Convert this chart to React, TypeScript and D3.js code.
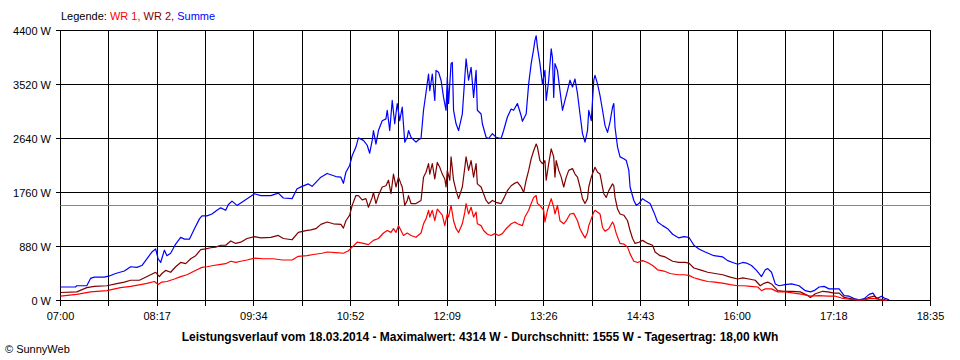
import React, { useEffect, useRef } from 'react';
import * as d3 from 'd3';

// Minuten nach 07:00, Leistung in W
const wr1: [number, number][] = [
  [0, 70], [13, 100], [24, 140], [37, 160], [48, 210], [56, 230], [64, 260], [69, 280], [75, 310], [78, 260], [81, 300], [85, 310], [91, 350], [96, 390], [101, 420], [105, 460], [109, 500], [113, 540], [117, 550], [122, 570], [128, 590], [132, 600], [136, 640], [140, 620],
  [144, 640], [149, 660], [155, 690], [162, 680], [170, 680], [177, 660], [185, 660], [190, 720], [197, 730], [202, 750], [209, 770], [213, 790], [220, 780], [226, 770], [230, 810], [233, 870], [237, 950], [242, 930], [246, 910], [250, 980], [254, 1010], [258, 1100], [261, 1140], [264, 1110], [266, 1170], [268, 1110], [270, 1220], [272, 1140], [274, 1060], [277, 1100], [280, 1060], [284, 1030], [288, 1100],
  [290, 1250], [292, 1330], [294, 1470], [295, 1360], [297, 1470], [299, 1300], [301, 1490], [303, 1440], [305, 1390], [307, 1220], [309, 1410], [310, 1360], [312, 1550], [314, 1300], [316, 1170], [318, 1110], [321, 1250], [323, 1440], [324, 1580], [326, 1410], [328, 1520], [330, 1360], [332, 1440], [333, 1250], [336, 1220], [338, 1140], [341, 1080], [344, 1060], [347, 1090], [350, 1060], [353, 1090], [356, 1170], [360, 1250], [363, 1280], [365, 1250], [369, 1220], [371, 1360], [374, 1470], [376, 1580], [378, 1680], [380, 1710], [381, 1580], [383, 1550], [386, 1470], [387, 1280], [389, 1470], [392, 1660], [394, 1520], [395, 1410], [397, 1550], [399, 1300], [402, 1250], [404, 1300], [407, 1410], [410, 1420], [413, 1300], [415, 1170], [417, 1090], [419, 1020], [421, 1110], [422, 1220], [424, 1330], [426, 1440], [427, 1470], [431, 1410],
  [433, 1190], [435, 1130], [438, 1170], [441, 1280], [442, 1240], [444, 1090], [447, 930], [450, 920], [453, 870], [455, 760], [458, 640], [461, 620], [465, 650], [469, 620], [473, 570], [477, 500], [482, 480], [487, 440], [493, 420], [498, 420], [502, 410], [506, 370], [511, 340], [517, 310], [523, 300], [530, 280], [535, 260], [541, 240], [546, 240], [551, 230], [557, 220], [560, 160], [563, 190], [568, 190], [573, 140], [579, 140], [586, 120], [593, 100], [599, 70], [606, 80], [613, 70], [619, 70], [624, 40], [630, 20], [636, 10], [642, 10], [646, 30], [651, 30], [655, 10], [660, 0],
];

const wr2: [number, number][] = [
  [0, 130], [13, 140], [21, 210], [27, 230], [37, 240], [44, 270], [51, 300], [56, 330], [63, 330], [68, 380], [72, 420], [76, 460], [79, 390], [81, 440], [84, 490], [88, 460], [92, 550], [96, 620], [100, 600], [104, 680], [108, 730], [112, 830], [116, 840], [120, 860], [124, 870], [128, 900], [132, 900], [136, 970], [140, 930],
  [144, 950], [149, 1010], [155, 1040], [160, 1020], [168, 1030], [174, 1060], [178, 1010], [185, 990], [190, 1110], [196, 1140], [200, 1150], [204, 1170], [208, 1240], [213, 1280], [218, 1250], [224, 1240], [226, 1180], [228, 1300], [231, 1390], [233, 1550], [236, 1710], [238, 1710], [241, 1640], [244, 1660], [246, 1520], [249, 1680], [250, 1760], [252, 1580], [254, 1710], [257, 1850], [260, 1870], [262, 1960], [264, 1740], [266, 2060], [268, 1850], [270, 2010], [272, 1900], [273, 1850], [275, 1550], [277, 1630], [278, 1710], [280, 1580], [284, 1580], [288, 1630],
  [290, 2010], [292, 2090], [294, 2230], [295, 2060], [297, 2230], [299, 1980], [301, 2250], [303, 2170], [305, 2060], [307, 1980], [308, 1850], [309, 2120], [311, 1960], [312, 2340], [314, 1960], [316, 1790], [318, 1660], [321, 1850], [323, 2170], [324, 2340], [326, 2120], [328, 2280], [330, 2010], [332, 2230], [333, 1900], [336, 1850], [338, 1740], [340, 1630], [342, 1580], [345, 1630], [348, 1600], [352, 1580], [354, 1660], [357, 1790], [360, 1870], [362, 1900], [365, 1930], [368, 1850], [370, 1760], [372, 1960], [374, 2120], [376, 2310], [378, 2440], [380, 2550], [381, 2500], [383, 2280], [385, 2230], [387, 2280], [388, 1960], [390, 2230], [392, 2470], [394, 2340], [395, 2010], [396, 2280], [398, 2120], [400, 2010], [402, 1850], [404, 2010], [406, 2120], [409, 2150], [411, 2060], [413, 2010], [415, 1850], [417, 1660], [419, 1580], [421, 1660], [422, 1850], [424, 2010], [426, 2120], [427, 2170], [429, 2090], [431, 2060],
  [434, 1740], [436, 1680], [438, 1790], [441, 1900], [442, 1870], [443, 1680], [445, 1490], [447, 1410], [450, 1390], [453, 1300], [455, 1140], [457, 1010], [459, 930], [462, 950], [465, 980], [469, 930], [473, 900], [475, 790], [479, 730], [483, 710], [489, 640], [494, 620], [499, 620], [502, 610], [506, 530], [511, 500], [517, 460], [523, 440], [529, 420], [535, 380], [541, 350], [545, 370], [550, 350], [555, 330], [559, 240], [562, 280], [565, 300], [568, 270], [573, 160], [578, 150], [585, 150], [591, 140], [597, 80], [599, 50], [603, 110], [609, 150], [613, 140], [618, 120], [622, 120], [626, 50], [631, 30], [636, 10], [642, 20], [646, 50], [650, 70], [654, 20], [658, 20], [660, 0],
];

const summe: [number, number][] = [
  [0, 220], [12, 220], [13, 240], [21, 240], [24, 360], [27, 380], [35, 380], [39, 400], [44, 440], [51, 480], [56, 550], [61, 540], [65, 570], [69, 680], [73, 790], [76, 840], [78, 680], [80, 620], [83, 820], [85, 730], [88, 770], [92, 920], [96, 1030], [99, 1000], [103, 1000], [107, 1170], [111, 1330], [113, 1380], [117, 1380], [121, 1410], [125, 1470], [128, 1510], [132, 1470], [134, 1560], [137, 1620], [141, 1550],
  [144, 1590], [155, 1740], [160, 1710], [168, 1710], [174, 1750], [178, 1670], [185, 1660], [189, 1820], [193, 1860], [198, 1900], [201, 1860], [208, 2010], [213, 2070], [220, 2020], [224, 2010], [226, 1910], [228, 2090], [231, 2200], [233, 2360], [236, 2500], [238, 2650], [242, 2610], [245, 2530], [247, 2400], [249, 2610], [250, 2770], [252, 2550], [254, 2770], [257, 2930], [260, 2960], [261, 3100], [263, 2770], [265, 3260], [267, 2880], [269, 3210], [271, 2930], [273, 3150], [275, 2580], [277, 2660], [278, 2770], [280, 2660], [284, 2580], [286, 2620],
  [288, 2640], [290, 3100], [292, 3390], [294, 3690], [295, 3420], [297, 3690], [299, 3260], [300, 3750], [302, 3720], [304, 3590], [306, 3310], [308, 3100], [309, 3640], [310, 3210], [312, 3860], [313, 3880], [314, 3100], [316, 2880], [318, 2770], [321, 3040], [323, 3640], [324, 3940], [326, 3590], [328, 3800], [330, 3310], [332, 3750], [333, 3100], [336, 3040], [337, 2880], [340, 2660], [342, 2640], [345, 2720], [348, 2660], [352, 2640], [354, 2770], [357, 2990], [360, 3120], [362, 3100], [365, 3210], [368, 3010], [369, 2920], [372, 3040], [374, 3530], [376, 3860], [378, 4100], [379, 4240], [380, 4314], [381, 4130], [383, 3860], [385, 3530], [387, 3750], [388, 3260], [390, 3590], [392, 4100], [393, 3960], [394, 3310], [395, 3860], [397, 3750], [399, 3420], [401, 3100], [403, 3260], [405, 3420], [407, 3590], [409, 3480], [411, 3610], [413, 3370], [415, 3040], [417, 2720], [419, 2580], [421, 2770], [422, 3100], [424, 2930], [426, 3590], [427, 3670], [429, 3530], [431, 3340],
  [433, 3100], [435, 2850], [437, 2740], [439, 2910], [441, 3150], [442, 3210], [443, 2820], [445, 2500], [447, 2340], [450, 2310], [452, 2280], [454, 2120], [455, 1850], [458, 1630], [460, 1550], [462, 1580], [465, 1660], [467, 1630], [471, 1580], [474, 1440], [477, 1280], [481, 1220], [485, 1170], [489, 1080], [494, 1020], [498, 1040], [502, 1030], [506, 900], [510, 840], [515, 790], [522, 730], [529, 710], [533, 650], [537, 620], [541, 590], [545, 620], [548, 610], [552, 570], [556, 490], [560, 390], [563, 500], [565, 520], [568, 460], [571, 270], [574, 240], [579, 260], [584, 270], [590, 240], [595, 160], [599, 140], [602, 160], [606, 220], [610, 230], [614, 190], [618, 190], [622, 190], [626, 80], [630, 70], [634, 30], [638, 10], [642, 30], [646, 100], [649, 120], [652, 30], [656, 70], [658, 40], [662, 10],
];

const xTickLabels = ['07:00', '08:17', '09:34', '10:52', '12:09', '13:26', '14:43', '16:00', '17:18', '18:35'];
const yTicks = [0, 880, 1760, 2640, 3520, 4400];
const durchschnitt = 1555;
const spanMinutes = 695; // 07:00 - 18:35

const caption = 'Leistungsverlauf vom 18.03.2014 - Maximalwert: 4314 W - Durchschnitt: 1555 W - Tagesertrag: 18,00 kWh';

const width = 960;
const height = 360;
const font = '"Liberation Sans", Arial, sans-serif';

function SunnyChart() {
  const svgRef = useRef<SVGSVGElement>(null);

  useEffect(() => {
    const svg = d3.select(svgRef.current);
    svg.selectAll('*').remove();

    const x = d3.scaleLinear().domain([0, spanMinutes]).range([60.5, 930.5]);
    const y = d3.scaleLinear().domain([0, 4400]).range([300.5, 30.5]);

    // Gitter
    const grid = svg.append('g').attr('stroke', '#000').attr('stroke-width', 1).attr('shape-rendering', 'crispEdges');
    const vLines = d3.range(19).map((i) => (i * spanMinutes) / 18);
    grid.selectAll('line.v').data(vLines).join('line')
      .attr('class', 'v')
      .attr('x1', (d) => x(d)).attr('x2', (d) => x(d))
      .attr('y1', y(4400)).attr('y2', y(0) + 5);
    grid.selectAll('line.h').data(yTicks).join('line')
      .attr('class', 'h')
      .attr('x1', x(0) - 5).attr('x2', x(spanMinutes))
      .attr('y1', (d) => y(d)).attr('y2', (d) => y(d));

    // Durchschnitt
    svg.append('line')
      .attr('x1', x(0)).attr('x2', x(spanMinutes))
      .attr('y1', Math.round(y(durchschnitt)) + 0.5).attr('y2', Math.round(y(durchschnitt)) + 0.5)
      .attr('stroke', '#888').attr('stroke-width', 1);

    // Achsenbeschriftung
    svg.append('g').selectAll('text').data(yTicks).join('text')
      .attr('x', 51).attr('y', (d) => y(d) + 4)
      .attr('text-anchor', 'end')
      .attr('font-family', font).attr('font-size', 11)
      .text((d) => `${d} W`);

    svg.append('g').selectAll('text').data(xTickLabels).join('text')
      .attr('x', (d, i) => x((i * 2 * spanMinutes) / 18))
      .attr('y', 320)
      .attr('text-anchor', 'middle')
      .attr('font-family', font).attr('font-size', 11)
      .text((d) => d);

    const line = d3.line<[number, number]>()
      .x((d) => x(d[0]))
      .y((d) => y(d[1]));

    const series: [[number, number][], string][] = [
      [summe, '#0000ff'],
      [wr2, '#800000'],
      [wr1, '#ff0000'],
    ];
    svg.append('g').selectAll('path').data(series).join('path')
      .attr('d', (s) => line(s[0]))
      .attr('fill', 'none')
      .attr('stroke', (s) => s[1])
      .attr('stroke-width', 1.2)
      .attr('stroke-linejoin', 'round');

    // Legende
    const leg = svg.append('text')
      .attr('x', 61).attr('y', 20)
      .attr('font-family', font).attr('font-size', 11);
    leg.append('tspan').attr('fill', '#000').text('Legende: ');
    leg.append('tspan').attr('fill', '#ff0000').text('WR 1, ');
    leg.append('tspan').attr('fill', '#800000').text('WR 2, ');
    leg.append('tspan').attr('fill', '#0000ff').text('Summe');

    svg.append('text')
      .attr('x', 480).attr('y', 341)
      .attr('text-anchor', 'middle')
      .attr('font-family', font).attr('font-size', 12).attr('font-weight', 'bold')
      .text(caption);

    svg.append('text')
      .attr('x', 5).attr('y', 353)
      .attr('font-family', font).attr('font-size', 11)
      .text('© SunnyWeb');
  }, []);

  return (
    <div style={{ position: 'absolute', left: 0, top: 0, background: '#fff' }}>
      <svg ref={svgRef} width={width} height={height} style={{ display: 'block' }} />
    </div>
  );
}

export default function App() {
  return <SunnyChart />;
}
